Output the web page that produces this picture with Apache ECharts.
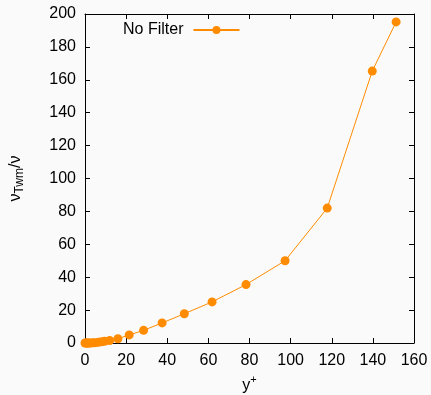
<!DOCTYPE html>
<html>
<head>
<meta charset="utf-8">
<script src="https://cdn.jsdelivr.net/npm/echarts@6/dist/echarts.min.js"></script>
<style>
  html, body { margin: 0; padding: 0; background: #fafafa; }
  #chart { width: 431px; height: 395px; }
</style>
</head>
<body>
<div id="chart"></div>
<script>
// wall distance (y+) and modelled eddy viscosity ratio
const yPlus = [0, 0.5, 1, 1.5, 2, 3, 4, 5, 6.5, 8, 9.5, 12, 16, 21.5, 28.5, 37.5, 48.3, 61.8, 78.3, 97.3, 117.8, 139.7, 151.3];
const nuRatio = [0, 0, 0, 0.01, 0.02, 0.05, 0.1, 0.2, 0.4, 0.7, 1.0, 1.5, 2.6, 4.9, 7.7, 12.2, 17.8, 25, 35.5, 50, 82, 165.3, 195.2];
const seriesName = 'No Filter';

const FONT = 'Liberation Sans';
const orange = '#ff8c00';

const chart = echarts.init(document.getElementById('chart'), null, { renderer: 'canvas' });

// shared look for the gnuplot-style box: ticks pointing in, on all four sides
const baseAxis = {
  axisLine: { show: true, onZero: false, lineStyle: { color: '#000', width: 1 } },
  axisTick: { show: true, inside: true, length: 5, lineStyle: { color: '#000' } },
  splitLine: { show: false }
};

const xRange = { type: 'value', min: 0, max: 160, interval: 20 };
const yRange = { type: 'value', min: 0, max: 200, interval: 20 };

chart.setOption({
  backgroundColor: '#fafafa',
  animation: false,
  textStyle: { fontFamily: FONT },
  grid: { left: 85, right: 17, top: 14, bottom: 52, outerBoundsMode: 'none' },
  legend: {
    data: [seriesName],
    left: 118,
    top: 17,
    align: 'right',
    itemWidth: 46,
    itemHeight: 10,
    textStyle: { fontFamily: FONT, fontSize: 16, color: '#000', padding: [0, 5, 0, 0] }
  },
  xAxis: [
    Object.assign({}, baseAxis, xRange, {
      position: 'bottom',
      axisLabel: { fontFamily: FONT, fontSize: 16, color: '#000', margin: 10 },
      name: '{a|y}{sup|+}',
      nameLocation: 'middle',
      nameGap: 31,
      nameTextStyle: {
        rich: {
          a: { fontFamily: FONT, fontSize: 16, color: '#000' },
          sup: { fontFamily: FONT, fontSize: 11, color: '#000', padding: [0, 0, 12, 0] }
        }
      }
    }),
    Object.assign({}, baseAxis, xRange, { position: 'top', axisLabel: { show: false } })
  ],
  yAxis: [
    Object.assign({}, baseAxis, yRange, {
      position: 'left',
      axisLabel: { fontFamily: FONT, fontSize: 16, color: '#000', margin: 9 },
      name: '{a|ν}{sub|Twm}{a|/ν}',
      nameLocation: 'middle',
      nameRotate: 90,
      nameGap: 59,
      nameTextStyle: {
        rich: {
          a: { fontFamily: FONT, fontSize: 16, color: '#000' },
          sub: { fontFamily: FONT, fontSize: 12, color: '#000', padding: [9, 0, 0, 0] }
        }
      }
    }),
    Object.assign({}, baseAxis, yRange, { position: 'right', axisLabel: { show: false } })
  ],
  series: [{
    name: seriesName,
    type: 'line',
    xAxisIndex: 0,
    yAxisIndex: 0,
    data: yPlus.map((x, i) => [x, nuRatio[i]]),
    symbol: 'circle',
    symbolSize: 9,
    itemStyle: { color: orange },
    lineStyle: { color: orange, width: 1 }
  }]
});
</script>
</body>
</html>
